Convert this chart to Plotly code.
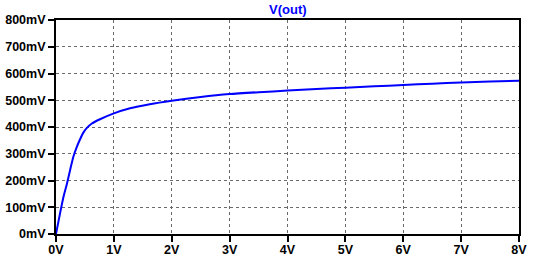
import plotly.graph_objects as go

# Data (V(in) in volts, V(out) in millivolts)
vin = [0, 0.07, 0.13, 0.19, 0.25, 0.30, 0.36, 0.42, 0.47, 0.53, 0.62, 0.76,
       1.0, 1.28, 1.62, 2.0, 2.5, 3.0, 3.5, 4.0, 4.5, 5.0, 5.5, 6.0, 6.5, 7.0, 7.5, 8.0]
vout_mv = [0, 77, 139, 189, 245, 289, 326, 356, 378, 396, 413, 429,
           451, 470, 485, 498, 512, 523, 530, 536, 542, 547, 552, 557, 562, 566, 570, 573]

x_ticks = [0, 1, 2, 3, 4, 5, 6, 7, 8]
x_ticktext = ["0V", "1V", "2V", "3V", "4V", "5V", "6V", "7V", "8V"]
y_ticks = [0, 100, 200, 300, 400, 500, 600, 700, 800]
y_ticktext = ["0mV", "100mV", "200mV", "300mV", "400mV", "500mV", "600mV", "700mV", "800mV"]
trace_name = "V(out)"

fig = go.Figure()
fig.add_trace(go.Scatter(x=vin, y=vout_mv, mode="lines", name=trace_name,
                         line=dict(color="#0000FF", width=2, shape="spline", smoothing=0.6)))

axis_common = dict(
    showline=True, linecolor="black", linewidth=2, mirror=True,
    ticks="outside", ticklen=6, tickwidth=2, tickcolor="black",
    showgrid=True, gridcolor="#6a6a6a", gridwidth=1, griddash="3px,3px",
    zeroline=False, automargin=False,
    tickfont=dict(family="Liberation Sans, Arial, sans-serif", size=12.5,
                  color="black", weight="bold"),
)

fig.update_xaxes(range=[0, 8], tickmode="array", tickvals=x_ticks,
                 ticktext=x_ticktext, ticklabelstandoff=-3, **axis_common)
fig.update_yaxes(range=[0, 800], tickmode="array", tickvals=y_ticks,
                 ticktext=y_ticktext, **axis_common)

fig.add_annotation(text=trace_name, x=0.5, xref="paper", y=1, yref="paper",
                   yanchor="bottom", yshift=1, showarrow=False,
                   font=dict(family="Liberation Sans, Arial, sans-serif", size=13,
                             color="#0000FF", weight="bold"))

fig.update_layout(
    width=533, height=263,
    margin=dict(l=56, r=14, t=20, b=29, autoexpand=False),
    paper_bgcolor="white", plot_bgcolor="white",
    showlegend=False,
)

fig.write_html("out.html")
